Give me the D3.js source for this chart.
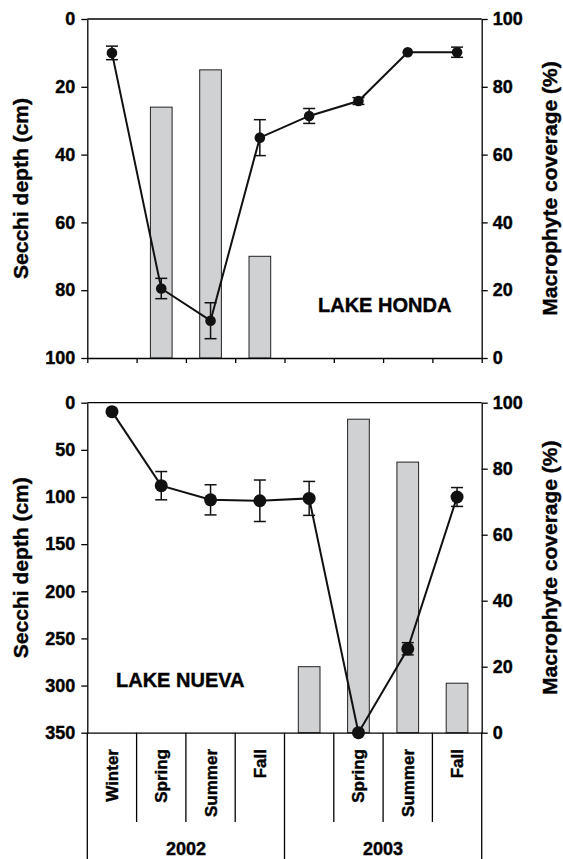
<!DOCTYPE html>
<html>
<head>
<meta charset="utf-8">
<script src="https://cdn.jsdelivr.net/npm/d3@7"></script>
<style>
  html, body { margin: 0; padding: 0; background: #fff; }
  svg { display: block; }
  text { font-family: "Liberation Sans", Arial, Helvetica, sans-serif; font-weight: bold; fill: #000; stroke: #000; stroke-width: 0.4px; }
</style>
</head>
<body>
<svg id="chart" width="563" height="859"></svg>
<script>
// ---- data ----
const categories = ["Winter", "Spring", "Summer", "Fall", "", "Spring", "Summer", "Fall"];
const years = ["2002", "2003"];

const hondaSecchi = [10, 79.5, 89, 35, 28.6, 24.2, 9.8, 9.8];
const hondaSecchiErr = [2, 3, 5.3, 5.3, 2.2, 1, 0, 1.5];
const hondaCoverage = [null, 74, 85, 30, null, null, null, null];

const nuevaSecchi = [9.5, 88, 103, 104, 101.5, 350, 261, 100];
const nuevaSecchiErr = [0, 15, 16, 22, 18, 0, 6.5, 10];
const nuevaCoverage = [null, null, null, null, 20, 95, 82, 15];

const hondaDepthTicks = [0, 20, 40, 60, 80, 100];
const nuevaDepthTicks = [0, 50, 100, 150, 200, 250, 300, 350];
const coverageTicks = [0, 20, 40, 60, 80, 100];

// ---- layout ----
const svg = d3.select("#chart");
const L = 87.3, R = 481.7;
const panels = [
  { name: "LAKE HONDA", top: 19, bottom: 358, depthMax: 100, depthTicks: hondaDepthTicks,
    secchi: hondaSecchi, err: hondaSecchiErr, cover: hondaCoverage, r: 5.3,
    label: { x: 318, y: 311.5 }, showCats: false },
  { name: "LAKE NUEVA", top: 402.7, bottom: 732.7, depthMax: 350, depthTicks: nuevaDepthTicks,
    secchi: nuevaSecchi, err: nuevaSecchiErr, cover: nuevaCoverage, r: 6.5,
    label: { x: 116, y: 686.5 }, showCats: true }
];

const xBand = d3.scaleBand().domain(d3.range(categories.length)).range([L, R]).padding(0);
const xEdge = d3.scaleLinear().domain([0, categories.length]).range([L, R]);
const cx = i => xBand(i) + xBand.bandwidth() / 2;
const barW = xBand.bandwidth() * 0.44;

const fontTick = "18px";

panels.forEach(p => {
  const g = svg.append("g");
  const yDepth = d3.scaleLinear().domain([0, p.depthMax]).range([p.top, p.bottom]);
  const yCov = d3.scaleLinear().domain([0, 100]).range([p.bottom, p.top]);

  // bars
  g.append("g").selectAll("rect")
    .data(p.cover.map((v, i) => ({ v, i })).filter(d => d.v !== null))
    .join("rect")
    .attr("x", d => cx(d.i) - barW / 2)
    .attr("width", barW)
    .attr("y", d => yCov(d.v))
    .attr("height", d => yCov(0) - yCov(d.v))
    .attr("fill", "#d0d1d3")
    .attr("stroke", "#222")
    .attr("stroke-width", 1);

  // top border
  g.append("line").attr("x1", L).attr("x2", R).attr("y1", p.top).attr("y2", p.top)
    .attr("stroke", "#000").attr("stroke-width", 1.3);

  // left axis
  const la = g.append("g").attr("transform", `translate(${L},0)`)
    .call(d3.axisLeft(yDepth).tickValues(p.depthTicks).tickSize(6).tickPadding(6).tickSizeOuter(0));
  // right axis
  const ra = g.append("g").attr("transform", `translate(${R},0)`)
    .call(d3.axisRight(yCov).tickValues(coverageTicks).tickSize(6).tickPadding(5).tickSizeOuter(0));
  // bottom axis
  const ba = g.append("g").attr("transform", `translate(0,${p.bottom})`)
    .call(d3.axisBottom(xEdge).tickValues(d3.range(categories.length + 1))
      .tickSize(p.showCats ? 0 : 5).tickFormat("").tickSizeOuter(0));
  [la, ra, ba].forEach(a => {
    a.selectAll("path, line").attr("stroke", "#000").attr("stroke-width", 1.3);
    a.selectAll("text").style("font-size", fontTick).style("font-family", "'Liberation Sans', Arial, sans-serif")
      .style("font-weight", "bold").attr("fill", "#000");
  });

  // error bars
  const eb = g.append("g");
  p.secchi.forEach((v, i) => {
    const e = p.err[i];
    if (!e) return;
    const x = cx(i);
    eb.append("line").attr("x1", x).attr("x2", x).attr("y1", yDepth(v - e)).attr("y2", yDepth(v + e))
      .attr("stroke", "#111").attr("stroke-width", 1.5);
    [v - e, v + e].forEach(t => {
      eb.append("line").attr("x1", x - 6).attr("x2", x + 6).attr("y1", yDepth(t)).attr("y2", yDepth(t))
        .attr("stroke", "#111").attr("stroke-width", 1.5);
    });
  });

  // line
  g.append("path")
    .datum(p.secchi)
    .attr("d", d3.line().x((d, i) => cx(i)).y(d => yDepth(d)))
    .attr("fill", "none").attr("stroke", "#111").attr("stroke-width", 2);

  // points
  g.append("g").selectAll("circle").data(p.secchi).join("circle")
    .attr("cx", (d, i) => cx(i)).attr("cy", d => yDepth(d)).attr("r", p.r)
    .attr("fill", "#111");

  // lake label
  g.append("text").attr("x", p.label.x).attr("y", p.label.y).style("font-size", "20px").text(p.name);

  // axis titles
  const midY = (p.top + p.bottom) / 2;
  g.append("text").attr("transform", `translate(28,${midY}) rotate(-90)`)
    .attr("text-anchor", "middle").style("font-size", "21px").text("Secchi depth (cm)");
  g.append("text").attr("transform", `translate(557,${midY}) rotate(-90)`)
    .attr("text-anchor", "middle").style("font-size", "21px").text("Macrophyte coverage (%)");

  if (p.showCats) {
    const sep = g.append("g");
    d3.range(categories.length + 1).forEach(k => {
      const full = (k % 4 === 0);
      sep.append("line").attr("x1", xEdge(k)).attr("x2", xEdge(k))
        .attr("y1", p.bottom).attr("y2", full ? 859 : 822)
        .attr("stroke", "#000").attr("stroke-width", 1.3);
    });
    g.append("g").selectAll("text").data(categories).join("text")
      .attr("transform", (d, i) => `translate(${cx(i)},749) rotate(-90)`)
      .attr("text-anchor", "end").attr("dy", "0.35em")
      .style("font-size", "17px").text(d => d);
    g.append("g").selectAll("text").data(years).join("text")
      .attr("x", (d, i) => (xEdge(i * 4) + xEdge(i * 4 + 4)) / 2)
      .attr("y", 855).attr("text-anchor", "middle").style("font-size", "18px").text(d => d);
  }
});
</script>
</body>
</html>
